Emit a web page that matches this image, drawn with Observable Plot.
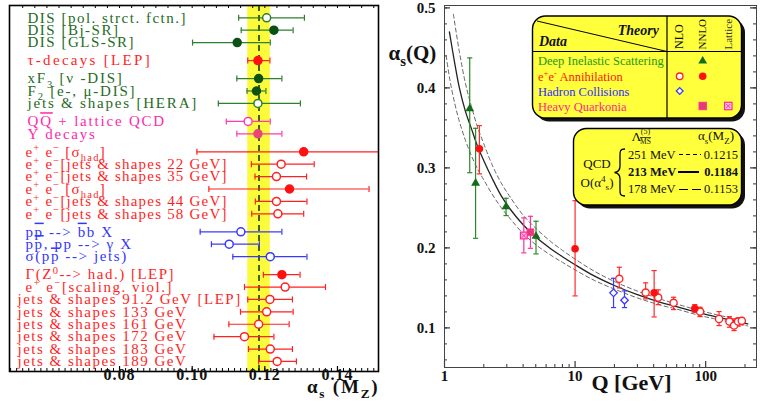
<!DOCTYPE html>
<html><head><meta charset="utf-8">
<script src="https://cdn.jsdelivr.net/npm/d3@7"></script>
<script src="https://cdn.jsdelivr.net/npm/@observablehq/plot@0.6"></script>
<style>
body{margin:0;background:#fff;}
#wrap{position:relative;width:763px;height:403px;overflow:hidden;font-family:"Liberation Serif",serif;background:#fff;}
#left,#right,#legend{position:absolute;top:0;}
#left{left:0}
#right{left:380px}
#legend{left:0;pointer-events:none}
</style></head><body>
<div id="wrap"><div id="left"></div><div id="right"></div><svg id="legend" width="763" height="403"></svg></div>
<script>
// ---------------- LEFT PANEL DATA: alpha_s(MZ) summary ----------------
const leftLabels = [
 "DIS [pol. strct. fctn.]",
 "DIS [Bj-SR]",
 "DIS [GLS-SR]",
 "τ-decays [LEP]",
 "xF_{3} [ν -DIS]",
 "F_{2} [e-, μ-DIS]",
 "jets & shapes [HERA]",
 "Q~{Q} + lattice QCD",
 "Υ decays",
 "e^{+} e^{−} [σ_{had}]",
 "e^{+} e^{−}[jets & shapes 22 GeV]",
 "e^{+} e^{−}[jets & shapes 35 GeV]",
 "e^{+} e^{−} [σ_{had}]",
 "e^{+} e^{−}[jets & shapes 44 GeV]",
 "e^{+} e^{−}[jets & shapes 58 GeV]",
 "p~{p} --> ~{b}b X",
 "p~{p}, pp --> γ X",
 "σ(p~{p} --> jets)",
 "Γ(Z^{0}--> had.) [LEP]",
 "e^{+} e^{−}[scaling. viol.]",
 "jets & shapes 91.2 GeV [LEP]",
 "jets & shapes 133 GeV",
 "jets & shapes 161 GeV",
 "jets & shapes 172 GeV",
 "jets & shapes 183 GeV",
 "jets & shapes 189 GeV"
];
const leftGroup  = [0,0,0,1,2,2,2,3,3,4,4,4,4,4,4,5,5,5,6,6,6,6,6,6,6,6];
const leftFamily = ["dis","dis","dis","red","dis","dis","dis","mag","mag","red","red","red","red","red","red","blue","blue","blue","red","red","red","red","red","red","red","red"];
const leftFilled = [false,true,true,true,true,true,false,false,true,true,false,false,true,false,false,false,false,false,true,false,false,false,false,false,false,false];
const leftValue = [0.1205,0.1225,0.1124,0.1181,0.1183,0.1177,0.1181,0.1154,0.1181,0.1307,0.1245,0.1232,0.1268,0.1232,0.1236,0.1134,0.1102,0.1215,0.1247,0.1256,0.1214,0.1205,0.1183,0.1144,0.1215,0.1234];
const leftLow   = [0.1128,0.1135,0.1001,0.1153,0.1123,0.1151,0.1072,0.1094,0.1123,0.1013,0.1163,0.1173,0.1046,0.1174,0.1164,0.1022,0.1053,0.1112,0.1196,0.1144,0.1153,0.1133,0.1101,0.1060,0.1155,0.1183];
const leftHigh  = [0.1309,0.1278,0.1215,0.1214,0.1247,0.1203,0.1298,0.1215,0.1247,0.1520,0.1336,0.1315,0.1487,0.1316,0.1307,0.1247,0.1185,0.1316,0.1297,0.1367,0.1276,0.1278,0.1267,0.1225,0.1276,0.1287];
const worldAverage = 0.1184, worldLow = 0.1153, worldHigh = 0.1215;
const leftTicks = [0.08, 0.10, 0.12, 0.14];

// ---------------- RIGHT PANEL DATA: alpha_s(Q) ----------------
const rightQ  = [1.56,1.73,2.96,5.02,1.85,10,4.05,4.55,19.7,23.9,21.8,34.7,40.3,43.3,56.8,82.5,90.6,126.6,152,165,177,189];
const rightA  = [0.374,0.281,0.2516,0.2145,0.3238,0.199,0.2154,0.2195,0.1438,0.1345,0.1613,0.1441,0.1438,0.1379,0.1313,0.1241,0.1204,0.1112,0.1079,0.1029,0.1079,0.1088];
const rightLo = [0.294,0.212,0.2404,0.1925,0.2925,0.140,0.1938,0.1995,0.1254,0.1254,0.150,0.1363,0.1137,0.1291,0.1229,0.1195,0.1141,0.1029,0.1008,0.0966,0.1021,0.1038];
const rightHi = [0.4375,0.3495,0.262,0.2333,0.3529,0.259,0.2375,0.2395,0.162,0.1462,0.1758,0.1563,0.1716,0.1475,0.1383,0.1291,0.1258,0.1204,0.1141,0.1112,0.1125,0.1125];
const rightKind = ["dis","dis","dis","dis","eeFilled","eeFilled","qqLattice","qqFilled","had","had","eeOpen","eeOpen","eeFilled","eeOpen","eeOpen","eeFilled","eeOpen","eeOpen","eeOpen","eeOpen","eeOpen","eeOpen"];

const solidQ = [1.09,1.2,1.3,1.45,1.6,1.8,2.0,2.3,2.7,3.2,4.0,5.0,6.5,8.0,10,14,20,30,45,60,91.2,130,210];
const solidA = [0.470,0.430,0.400,0.370,0.350,0.326,0.309,0.288,0.266,0.248,0.229,0.2135,0.199,0.189,0.179,0.165,0.153,0.1415,0.132,0.1265,0.1184,0.1125,0.1050];
const upperQ = [1.17,1.3,1.45,1.6,1.8,2.0,2.3,2.7,3.2,4.0,5.0,6.5,8.0,10,14,20,30,45,60,91.2,130,210];
const upperA = [0.492,0.445,0.405,0.378,0.350,0.330,0.305,0.282,0.263,0.241,0.2245,0.208,0.197,0.186,0.171,0.158,0.146,0.136,0.1298,0.1215,0.1153,0.1078];
const lowerQ = [1.03,1.1,1.2,1.3,1.45,1.6,1.8,2.0,2.3,2.7,3.2,4.0,5.0,6.5,8.0,10,14,20,30,45,60,91.2,130,210];
const lowerA = [0.440,0.410,0.380,0.358,0.334,0.316,0.298,0.285,0.268,0.251,0.236,0.218,0.204,0.191,0.182,0.1725,0.1595,0.1485,0.1375,0.1285,0.1235,0.1153,0.1098,0.1025];
const yTickLabels = [0.1,0.2,0.3,0.4,0.5];
const xTickLabels = [1,10,100];

// ---------------- rich text helpers ----------------
function parseRich(s){const segs=[];const re=/([\^_~])\{([^}]*)\}/g;let last=0,m;
  while((m=re.exec(s))){if(m.index>last)segs.push({t:s.slice(last,m.index),k:""});segs.push({t:m[2],k:m[1]});last=re.lastIndex;}
  if(last<s.length)segs.push({t:s.slice(last),k:""});return segs;}
function plain(s){return parseRich(s).map(d=>d.t).join("");}
function esc(t){return t.replace(/&/g,"&amp;").replace(/</g,"&lt;").replace(/>/g,"&gt;");}
function markup(s,fs){let prev=0,out="";
  for(const g of parseRich(s)){
    const shift=g.k==="^"?-0.36*fs:g.k==="_"?0.28*fs:0;
    const size=(g.k==="^"||g.k==="_")?` font-size="${(0.7*fs).toFixed(1)}"`:"";
    const deco=g.k==="~"?` style="text-decoration:overline"`:"";
    out+=`<tspan dy="${(shift-prev).toFixed(1)}"${size}${deco}>${esc(g.t)}</tspan>`;prev=shift;}
  return out;}
const richMap=new Map();
function reg(src,fs,ls){richMap.set(plain(src),{src,fs,ls});}
function enrich(root){root.querySelectorAll("text").forEach(el=>{const e=richMap.get(el.textContent);
  if(e){el.innerHTML=markup(e.src,e.fs);if(e.ls!=null)el.setAttribute("letter-spacing",e.ls);}});}

// ---------------- LEFT PLOT ----------------
const GAP=0.4516;
const rows=leftLabels.map((label,i)=>({label,value:leftValue[i],lo:leftLow[i],hi:leftHigh[i],family:leftFamily[i],filled:leftFilled[i],group:leftGroup[i],pos:i+GAP*leftGroup[i]}));
const spacingFor=d=>d.group===0?1.5:d.group===1?2.3:d.group<=3?1.8:d.group===4?1.2:d.group===5?1.6:1.5;
rows.forEach(r=>reg(r.label,15,spacingFor(r)));
const labelColor={dis:"#256b25",red:"#ff1f1f",mag:"#ff2aa6",blue:"#3535ff"};
const barColor={dis:"#2f7f2f",red:"#ff2020",mag:"#ff3ab0",blue:"#3a3aff"};
const fillColor={dis:"#0b5214",red:"#ff1010",mag:"#e8457a",blue:"#3a3aff"};
const vcap={draw(c){c.moveTo(0,-3);c.lineTo(0,3);}};
const hcap={draw(c){c.moveTo(-2.6,0);c.lineTo(2.6,0);}};
const XL=[0.0497,0.1513];
const isJets=d=>/^jets & shapes (1|9)/.test(d.label);
leftTicks.forEach(t=>reg(t.toFixed(2),16,1));
reg("α_{s} (M_{Z})",19,1.8);

const frameHL=366;
const leftPlot=Plot.plot({
  width:383,height:403,marginLeft:9,marginRight:5,marginTop:5,marginBottom:32,
  x:{domain:XL,axis:null},
  y:{domain:[28.52,-0.99],axis:null},
  style:{fontFamily:"Liberation Serif",background:"transparent",overflow:"visible"},
  marks:[
    Plot.rect([0],{x1:worldLow,x2:worldHigh,fill:"#fbfb3c"}),
    Plot.ruleX([worldAverage],{stroke:"#143f14",strokeWidth:1.6,strokeDasharray:"6,4"}),
    Plot.ruleY(rows,{y:"pos",x1:"lo",x2:"hi",stroke:d=>barColor[d.family],strokeWidth:1.2,clip:true}),
    Plot.dot(rows,{x:"lo",y:"pos",symbol:vcap,stroke:d=>barColor[d.family],strokeWidth:1.2}),
    Plot.dot(rows.filter(d=>d.hi<XL[1]),{x:"hi",y:"pos",symbol:vcap,stroke:d=>barColor[d.family],strokeWidth:1.2}),
    Plot.dot(rows,{x:"value",y:"pos",r:4,fill:d=>d.filled?fillColor[d.family]:"white",stroke:d=>d.filled?fillColor[d.family]:barColor[d.family],strokeWidth:1.5}),
    Plot.text(rows.filter(d=>d.group<=3),{x:XL[0],y:"pos",text:d=>plain(d.label),textAnchor:"start",dx:18,fill:d=>labelColor[d.family],fontSize:15}),
    Plot.text(rows.filter(d=>d.group>3&&!isJets(d)),{x:XL[0],y:"pos",text:d=>plain(d.label),textAnchor:"start",dx:16,fill:d=>labelColor[d.family],fontSize:15}),
    Plot.text(rows.filter(isJets),{x:XL[0],y:"pos",text:d=>plain(d.label),textAnchor:"start",dx:8,fill:d=>labelColor[d.family],fontSize:15}),
    Plot.ruleX(d3.range(16,46).map(k=>k/300),{insetBottom:frameHL-3,stroke:"#000",strokeWidth:1}),
    Plot.ruleX(d3.range(30,91).map(k=>k/600),{insetTop:frameHL-3,stroke:"#000",strokeWidth:1}),
    Plot.ruleX(leftTicks,{insetTop:frameHL-5,stroke:"#000",strokeWidth:1.2}),
    Plot.frame({stroke:"#000",strokeWidth:1.6}),
    Plot.text(leftTicks,{x:d=>d,text:d=>d.toFixed(2),frameAnchor:"bottom",dy:8,fontSize:16,fontWeight:"bold",fill:"#111"}),
    Plot.text([0],{text:()=>plain("α_{s} (M_{Z})"),frameAnchor:"bottom-right",textAnchor:"end",dy:21,dx:1,fontSize:19,fontWeight:"bold",fill:"#111"})
  ]
});
document.getElementById("left").appendChild(leftPlot);

// ---------------- RIGHT PLOT ----------------
const pts=rightQ.map((Q,i)=>({Q,a:rightA[i],lo:rightLo[i],hi:rightHi[i],kind:rightKind[i]}));
const kindColor={dis:"#2a8a2a",eeOpen:"#ff2a2a",eeFilled:"#ff2a2a",had:"#3a3aff",qqFilled:"#ff3399",qqLattice:"#ff3399"};
const solid=solidQ.map((Q,i)=>({Q,a:solidA[i]}));
const upper=upperQ.map((Q,i)=>({Q,a:upperA[i]}));
const lower=lowerQ.map((Q,i)=>({Q,a:lowerA[i]}));
const yMinor=d3.range(3,26).map(k=>k/50);
const xMinor=[2,3,4,5,6,7,8,9,20,30,40,50,60,70,80,90,200];
const FW=312,FH=362;
reg("α_{s}(Q)",21,null);
const of=k=>pts.filter(d=>d.kind===k);
const rightPlot=Plot.plot({
  width:383,height:403,marginLeft:64,marginRight:7,marginTop:5,marginBottom:36,
  x:{type:"log",domain:[1,245],axis:null},
  y:{domain:[0.0505,0.503],axis:null},
  style:{fontFamily:"Liberation Serif",background:"transparent",overflow:"visible"},
  marks:[
    Plot.line(upper,{x:"Q",y:"a",stroke:"#555",strokeWidth:0.9,strokeDasharray:"4,3",curve:"catmull-rom"}),
    Plot.line(lower,{x:"Q",y:"a",stroke:"#555",strokeWidth:0.9,strokeDasharray:"4,3",curve:"catmull-rom"}),
    Plot.line(solid,{x:"Q",y:"a",stroke:"#222",strokeWidth:1.3,curve:"catmull-rom"}),
    Plot.ruleX(pts,{x:"Q",y1:"lo",y2:"hi",stroke:d=>kindColor[d.kind],strokeWidth:1.2}),
    Plot.dot(pts,{x:"Q",y:"lo",symbol:hcap,stroke:d=>kindColor[d.kind],strokeWidth:1.2}),
    Plot.dot(pts,{x:"Q",y:"hi",symbol:hcap,stroke:d=>kindColor[d.kind],strokeWidth:1.2}),
    Plot.dot(of("dis"),{x:"Q",y:"a",symbol:"triangle",r:3.3,fill:"#0f6e16"}),
    Plot.dot(of("eeOpen"),{x:"Q",y:"a",r:3.6,fill:"white",stroke:"#ff2020",strokeWidth:1.3}),
    Plot.dot(of("eeFilled"),{x:"Q",y:"a",r:3.8,fill:"#ff1010"}),
    Plot.dot(of("had"),{x:"Q",y:"a",symbol:"diamond2",r:3.4,fill:"white",stroke:"#3a3aff",strokeWidth:1.3}),
    Plot.dot(of("qqFilled"),{x:"Q",y:"a",symbol:"square",r:3.8,fill:"#e23c78",stroke:"#ff3399",strokeWidth:1}),
    Plot.dot(of("qqLattice"),{x:"Q",y:"a",symbol:"square",r:3.8,fill:"#ffc0e0",stroke:"#ff2a99",strokeWidth:1.2}),
    Plot.dot(of("qqLattice"),{x:"Q",y:"a",symbol:"times",r:2.2,stroke:"#ff2a99",strokeWidth:1}),
    Plot.ruleY(yMinor,{insetRight:FW-3,stroke:"#333"}),
    Plot.ruleY(yTickLabels,{insetRight:FW-6,stroke:"#333",strokeWidth:1.2}),
    Plot.ruleY(yMinor,{insetLeft:FW-3,stroke:"#333"}),
    Plot.ruleY(yTickLabels,{insetLeft:FW-6,stroke:"#333",strokeWidth:1.2}),
    Plot.ruleX(xMinor,{insetTop:FH-3,stroke:"#333"}),
    Plot.ruleX(xTickLabels,{insetTop:FH-6,stroke:"#333",strokeWidth:1.2}),
    Plot.frame({stroke:"#444",strokeWidth:1}),
    Plot.text(yTickLabels,{y:d=>d,text:d=>d.toFixed(1),frameAnchor:"left",textAnchor:"end",dx:-9,fontSize:15,fontWeight:"bold",fill:"#111"}),
    Plot.text(xTickLabels,{x:d=>d,text:d=>String(d),frameAnchor:"bottom",dy:13,fontSize:15,fontWeight:"bold",fill:"#111"}),
    Plot.text([0],{text:()=>plain("α_{s}(Q)"),frameAnchor:"top-left",textAnchor:"start",dx:-56,dy:40,fontSize:21,fontWeight:"bold",fill:"#111"}),
    Plot.text([0],{text:()=>"Q [GeV]",frameAnchor:"bottom",dx:31,dy:22,fontSize:22,fontWeight:"bold",fill:"#111"})
  ]
});
document.getElementById("right").appendChild(rightPlot);
enrich(document.getElementById("wrap"));

// ---------------- LEGEND BOXES ----------------
const leg=d3.select("#legend");
const YEL="#ffff3c";
function box(x,y,w,h){
  leg.append("rect").attr("x",x+3.5).attr("y",y+3.5).attr("width",w).attr("height",h).attr("rx",13).attr("fill","#111");
  leg.append("rect").attr("x",x).attr("y",y).attr("width",w).attr("height",h).attr("rx",13).attr("fill",YEL).attr("stroke","#000").attr("stroke-width",1.4);
}
function txt(x,y,src,o={}){
  const fs=o.size||12.5;
  const t=leg.append("text").attr("x",x).attr("y",y).attr("font-size",fs).attr("font-family","Liberation Serif")
   .attr("text-anchor",o.anchor||"start").attr("fill",o.fill||"#111");
  if(o.weight)t.attr("font-weight",o.weight);
  if(o.style)t.attr("font-style",o.style);
  if(o.transform)t.attr("transform",o.transform);
  t.node().innerHTML=markup(src,fs);
  return t;
}
function line(x1,y1,x2,y2,o={}){leg.append("line").attr("x1",x1).attr("y1",y1).attr("x2",x2).attr("y2",y2).attr("stroke",o.stroke||"#000").attr("stroke-width",o.w||1).attr("stroke-dasharray",o.dash||null);}
box(532.5,16,209,102);
line(667,16,667,118,{w:1.2});
line(532.5,51.5,741.5,51.5,{w:1.2});
line(537,21,667,51.5,{w:1});
txt(659,35,"Theory",{size:14,weight:"bold",style:"italic",anchor:"end"});
txt(539,45.5,"Data",{size:14,weight:"bold",style:"italic"});
txt(0,0,"NLO",{size:12,transform:"translate(683,49) rotate(-90)"});
txt(0,0,"NNLO",{size:11,transform:"translate(705.5,49.5) rotate(-90)"});
txt(0,0,"Lattice",{size:11,transform:"translate(731.5,49.5) rotate(-90)",fill:"#333"});
txt(538,65,"Deep Inelastic Scattering",{fill:"#1a9a1a"});
txt(538,80.5,"e^{+}e^{-} Annihilation",{fill:"#ff1414"});
txt(538,95.5,"Hadron Collisions",{fill:"#2c2cff"});
txt(538,110.5,"Heavy Quarkonia",{fill:"#ff1f8f"});
const sym=(type,size)=>d3.symbol(type,size)();
leg.append("path").attr("d",sym(d3.symbolTriangle,34)).attr("transform","translate(702.7,61)").attr("fill","#0f6e16");
leg.append("circle").attr("cx",679.7).attr("cy",76.3).attr("r",3.3).attr("fill","white").attr("stroke","#ff2020").attr("stroke-width",1.3);
leg.append("circle").attr("cx",702.7).attr("cy",76.3).attr("r",3.8).attr("fill","#ff1010");
leg.append("path").attr("d","M0,-3.4L3.4,0L0,3.4L-3.4,0Z").attr("transform","translate(679.7,91)").attr("fill","white").attr("stroke","#3a3aff").attr("stroke-width",1.3);
leg.append("rect").attr("x",699).attr("y",102.3).attr("width",7.4).attr("height",7.4).attr("fill","#e23c78").attr("stroke","#ff3399");
leg.append("rect").attr("x",724.6).attr("y",102.3).attr("width",7.4).attr("height",7.4).attr("fill","#ffc0e0").attr("stroke","#ff2a99").attr("stroke-width",1.2);
line(726.3,104,730.3,108,{stroke:"#ff2a99"});line(730.3,104,726.3,108,{stroke:"#ff2a99"});

box(573.5,128.5,168,76.5);
txt(636.5,141,"Λ",{size:13.5,anchor:"middle"});
txt(645.5,134,"(5)",{size:8,anchor:"middle"});
txt(645.5,144,"~{MS}",{size:7.5,anchor:"middle"});
txt(716,140,"α_{s}(M_{Z})",{size:13,anchor:"middle"});
txt(597,168,"QCD",{size:13,anchor:"middle"});
txt(597,186.5,"O(α^{4}_{s})",{size:13,anchor:"middle"});
leg.append("path").attr("d","M625,149 C619.5,149 620,152 620,157 L620,166 C620,170 618.5,172 614.5,172.5 C618.5,173 620,175 620,179 L620,188 C620,193 619.5,196 625,196").attr("fill","none").attr("stroke","#000").attr("stroke-width",1.3);
txt(628,158.5,"251 MeV");
txt(628,176,"213 MeV",{weight:"bold"});
txt(628,193,"178 MeV");
txt(738,158.5,"0.1215",{anchor:"end"});
txt(738,176,"0.1184",{anchor:"end",weight:"bold"});
txt(738,193,"0.1153",{anchor:"end"});
line(679,154.5,701,154.5,{dash:"4,3",w:1.1});
line(678,172,699,172,{w:2});
line(679,189.5,701,189.5,{dash:"9,4",w:1.1});
</script>
</body></html>
